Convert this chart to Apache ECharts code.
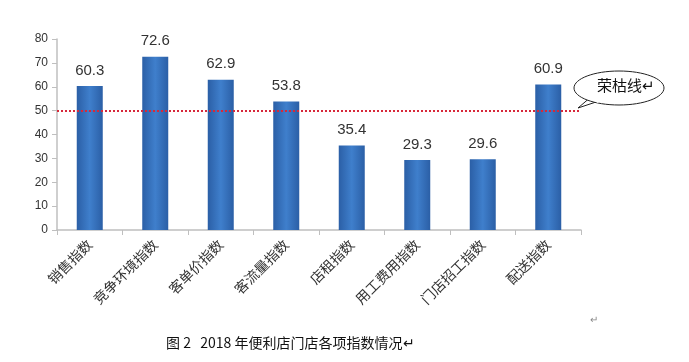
<!DOCTYPE html>
<html><head><meta charset="utf-8">
<script src="https://cdn.jsdelivr.net/npm/echarts@6/dist/echarts.min.js"></script>
<style>html,body{margin:0;padding:0;background:#fff}#c{width:689px;height:362px}</style>
</head><body><div id="c"></div>
<script>
const categories = ['销售指数','竞争环境指数','客单价指数','客流量指数','店租指数','用工费用指数','门店招工指数','配送指数'];
const values = [60.3, 72.6, 62.9, 53.8, 35.4, 29.3, 29.6, 60.9];
const threshold = 50;
const yTicks = [0, 80, 10];
const calloutText = '荣枯线';
const captionText = '图 2   2018 年便利店门店各项指数情况';

const chart = echarts.init(document.getElementById('c'));
const barColor = new echarts.graphic.LinearGradient(0,0,1,0,[
  {offset:0,color:'#2b5fa6'},{offset:0.5,color:'#3f7fcc'},{offset:1,color:'#2b5fa6'}]);
chart.setOption({
  animation:false,
  grid:{left:57,right:108,top:39,bottom:132},
  xAxis:{type:'category',data:categories,
    axisLine:{lineStyle:{color:'#bfbfbf',width:1.5}},
    axisTick:{show:true,alignWithLabel:false,length:5,lineStyle:{color:'#bfbfbf'}},
    axisLabel:{rotate:45,fontFamily:'Noto Sans CJK SC',fontSize:14,color:'#333',margin:12,interval:0}},
  yAxis:{type:'value',min:yTicks[0],max:yTicks[1],interval:yTicks[2],
    axisLine:{show:true,lineStyle:{color:'#bfbfbf',width:1.5}},
    axisTick:{show:true,length:5,lineStyle:{color:'#bfbfbf'}},
    splitLine:{show:false},
    axisLabel:{fontFamily:'Liberation Sans',fontSize:12,color:'#333',margin:9}},
  series:[{type:'bar',data:values,barWidth:26,
    itemStyle:{color:barColor},
    label:{show:true,position:'top',distance:8,fontFamily:'Liberation Sans',fontSize:15,color:'#333',formatter:p=>p.value.toFixed(1)},
    markLine:{silent:true,symbol:'none',label:{show:false},
      lineStyle:{color:'#d8283a',type:[2,2],width:2},
      data:[{yAxis:threshold}]}
  }],
  graphic:[
    {type:'polygon',shape:{points:[[578,108],[592,96],[602,100]]},style:{fill:'#fff',stroke:'#222',lineWidth:1},z:10},
    {type:'ellipse',shape:{cx:619,cy:88,rx:45,ry:17},style:{fill:'#fff',stroke:'#222',lineWidth:1},z:11},
    {type:'polygon',shape:{points:[[590,99],[594,96],[601,100],[598,103]]},style:{fill:'#fff',stroke:null},z:12},
    {type:'text',left:597,top:78,style:{text:calloutText+'↵',font:'15px "Noto Sans CJK SC"',fill:'#111'},z:13},
    {type:'text',left:166,top:336,style:{text:captionText+'↵',font:'14px "Noto Sans CJK SC"',fill:'#111'}},
    {type:'text',left:590,top:314,style:{text:'↵',font:'10px "Noto Sans CJK SC"',fill:'#888'}}
  ]
});
</script></body></html>
